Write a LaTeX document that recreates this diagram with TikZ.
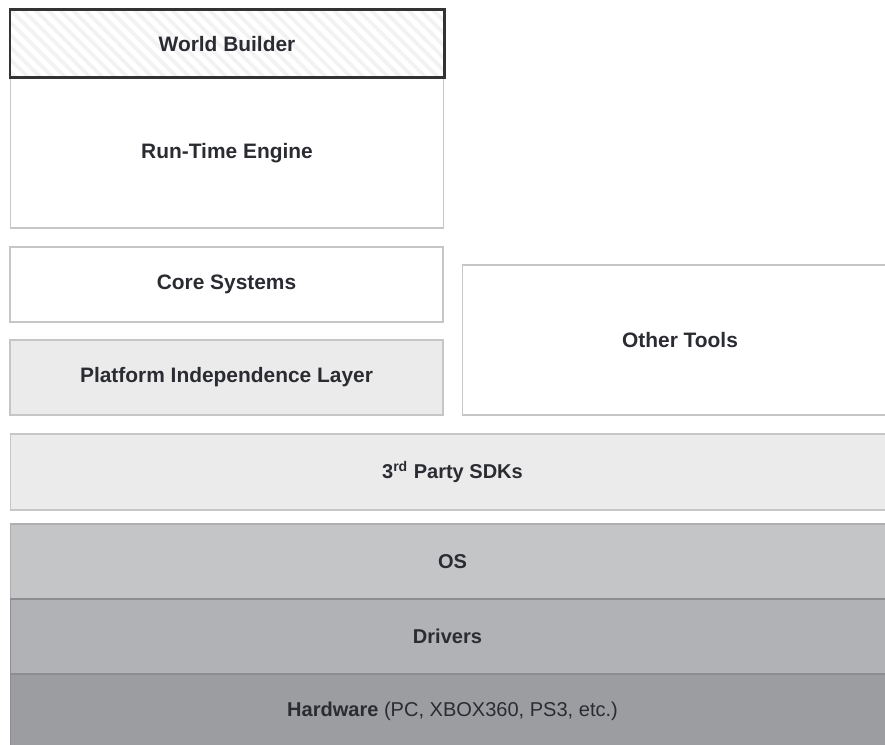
\documentclass[tikz,border=0pt]{standalone}
\usepackage{fontspec}
\setmainfont{Liberation Sans}
\usepackage{tikz}
\usetikzlibrary{positioning,patterns.meta}
\usepackage{xcolor}
\definecolor{boxLine}{HTML}{C6C6C6}
\definecolor{lightFill}{HTML}{EBEBEB}
\definecolor{osFill}{HTML}{C4C5C7}
\definecolor{drvFill}{HTML}{B1B2B5}
\definecolor{hwFill}{HTML}{9C9DA0}
\definecolor{bandLine}{HTML}{8C8D90}
\definecolor{labelInk}{HTML}{2B2C32}

\begin{document}
\begin{tikzpicture}[
  box/.style={draw=boxLine,line width=0.7pt,minimum height=1.5cm,align=center,
    text=labelInk,font=\fontsize{11.9}{14}\selectfont\bfseries},
  wide/.style={box,minimum width=8.66cm},
  shaded/.style={wide,fill=lightFill},
  band/.style={draw=bandLine,line width=0.7pt,minimum width=17.8cm,minimum height=1.5cm},
  bandtext/.style={text=labelInk,font=\fontsize{11.4}{13}\selectfont},
  tool/.style={box,line width=1.7pt,draw=black!80,minimum width=8.68cm,minimum height=1.36cm,
    preaction={fill=white},
    pattern={Lines[angle=-45,distance=5pt,line width=2pt]},pattern color=black!5}]

  \fill[white] (0,0) rectangle (17.7,14.9);
  \clip (0,0) rectangle (17.7,14.9);

  % engine stack on the left
  \node[wide,minimum height=3.0cm] (runtime) at (4.54,11.84) {Run-Time Engine};
  \node[tool] (builder) at (4.54,14.02) {World Builder};
  \node[wide] (core) at (4.53,9.21) {Core Systems};
  \node[shaded] (pil) at (4.53,7.35) {Platform Independence Layer};

  % tools on the right, running off the page edge
  \node[box,anchor=west,minimum width=8.6cm,minimum height=3.0cm] (tools) at (9.24,8.1) {};
  \node[text=labelInk,font=\fontsize{11.9}{14}\selectfont\bfseries] (toolsname) at (13.6,8.1) {Other Tools};

  % full-width layers
  \node[box,fill=lightFill,anchor=west,minimum width=17.8cm,minimum height=1.52cm] (sdk) at (0.2,5.46) {};
  \node[bandtext,font=\fontsize{11.4}{13}\selectfont\bfseries] (sdkname) at (9.05,5.46) {3\textsuperscript{rd} Party SDKs};

  \node[band,fill=osFill,anchor=west,draw=bandLine!70] (os) at (0.2,3.67) {};
  \node[band,fill=drvFill,anchor=west] (drivers) at (0.2,2.17) {};
  \node[band,fill=hwFill,anchor=west] (hardware) at (0.2,0.67) {};
  \node[bandtext,font=\fontsize{11.4}{13}\selectfont\bfseries] (osname) at (9.05,3.67) {OS};
  \node[bandtext,font=\fontsize{11.4}{13}\selectfont\bfseries] (drvname) at (8.95,2.17) {Drivers};
  \node[bandtext] (hwname) at (9.05,0.67) {\textbf{Hardware} (PC, XBOX360, PS3, etc.)};
\end{tikzpicture}
\end{document}
